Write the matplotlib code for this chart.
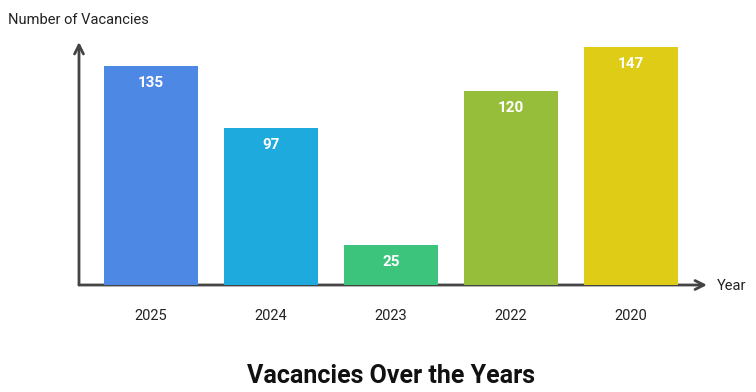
import matplotlib
matplotlib.use("Agg")
import matplotlib.pyplot as plt

years = ["2025", "2024", "2023", "2022", "2020"]
vacancies = [135, 97, 25, 120, 147]
colors = ["#4E88E5", "#1EAADC", "#3CC47C", "#96BE3A", "#DFCC17"]

plt.rcParams['font.family'] = ['Roboto', 'DejaVu Sans']

W, H = 756, 392
fig = plt.figure(figsize=(W / 100, H / 100), dpi=100)
left, right, bottom, top = 79, 700, 285, 42
ax = fig.add_axes([left / W, 1 - bottom / H, (right - left) / W, (bottom - top) / H])
ax.set_xlim(-0.6, (right - 151) / 120)
ax.set_ylim(0, 150)

x = list(range(len(years)))
bars = ax.bar(x, vacancies, width=94 / 120, color=colors, zorder=2)
for xi, v in zip(x, vacancies):
    ax.text(xi, v - 10.5, str(v), ha="center", va="center", color="white",
            fontsize=11, fontweight="semibold", zorder=3)

for s in ax.spines.values():
    s.set_visible(False)
ax.set_xticks(x)
ax.set_xticklabels(years, fontsize=10.5, color="#222222")
ax.tick_params(axis="x", length=0, pad=17)
ax.set_yticks([])

axis_col = "#444444"
ax.annotate("", xy=(1.0 + 7 / (right - left), 0), xytext=(0, 0),
            xycoords="axes fraction", textcoords="axes fraction",
            arrowprops=dict(arrowstyle="->", color=axis_col, lw=2,
                            mutation_scale=16, shrinkA=0, shrinkB=0), zorder=1)
ax.annotate("", xy=(0, 1.0), xytext=(0, 0),
            xycoords="axes fraction", textcoords="axes fraction",
            arrowprops=dict(arrowstyle="->", color=axis_col, lw=2,
                            mutation_scale=16, shrinkA=0, shrinkB=0), zorder=1)

fig.text(8 / W, 1 - 20 / H, "Number of Vacancies", ha="left", va="center",
         fontsize=10.5, color="#222222")
fig.text(717 / W, 1 - 286 / H, "Year", ha="left", va="center",
         fontsize=10.5, color="#222222")
fig.text(391 / W, 1 - 376 / H, "Vacancies Over the Years", ha="center", va="center",
         fontsize=18, fontweight="bold", color="#111111")

fig.savefig("out.png", dpi=100)
